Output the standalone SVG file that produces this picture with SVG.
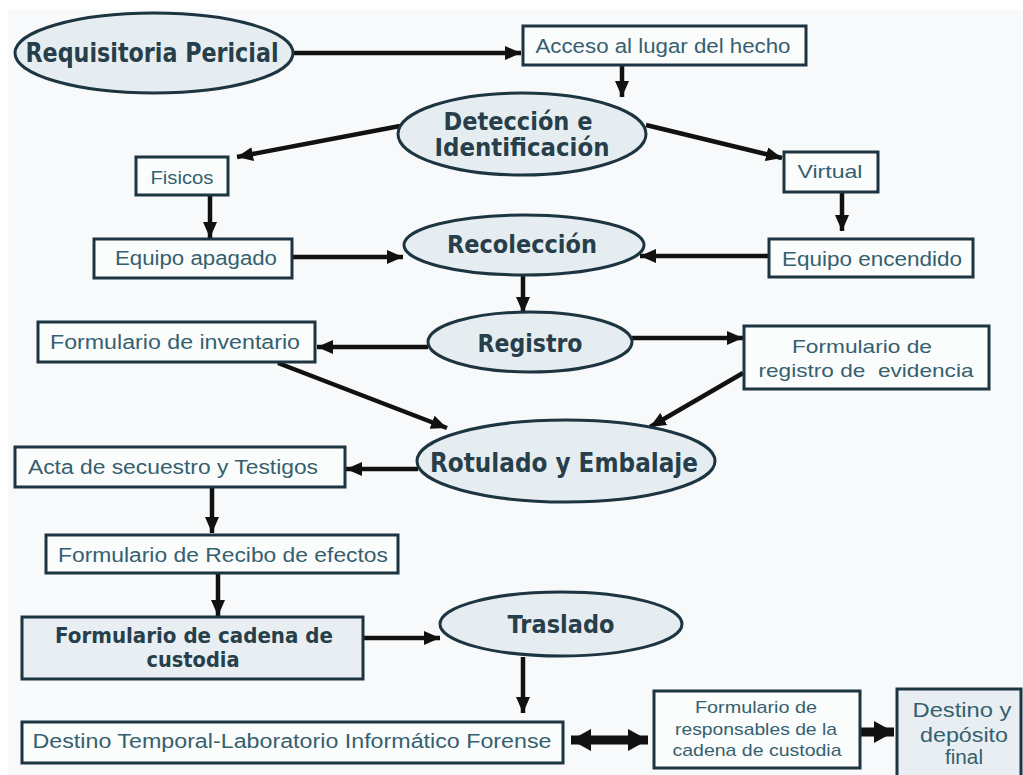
<svg xmlns="http://www.w3.org/2000/svg" width="1023" height="775" viewBox="0 0 1023 775">
<defs>
<style>
.bg{fill:#f8f9fa}
.ell{fill:#e6edf1;stroke:#1d3540;stroke-width:3}
.box{fill:#fbfcfc;stroke:#1d3540;stroke-width:3}
.boxf{fill:#e8eef2;stroke:#1d3540;stroke-width:3}
.tb{font-family:"DejaVu Sans","Liberation Sans",sans-serif;font-weight:bold;fill:#263f4b;text-anchor:middle}
.tr{font-family:"Liberation Sans",Arial,sans-serif;fill:#35606f;text-anchor:middle}
.c{stroke:#111;stroke-width:4.5;fill:none}
.ct{stroke:#111;stroke-width:9;fill:none}
</style>
<marker id="ah" viewBox="0 0 16 14" refX="16" refY="7" markerWidth="16" markerHeight="14" markerUnits="userSpaceOnUse" orient="auto">
<path d="M0,0 L16,7 L0,14 z" fill="#111"/>
</marker>
<marker id="ahb" viewBox="0 0 20 22" refX="20" refY="11" markerWidth="20" markerHeight="22" markerUnits="userSpaceOnUse" orient="auto-start-reverse">
<path d="M0,0 L20,11 L0,22 z" fill="#111"/>
</marker>
</defs>
<rect width="1023" height="775" fill="#ffffff"/>
<rect class="bg" x="8" y="10" width="1015" height="765"/>

<g id="connectors">
<line class="c" x1="293" y1="53" x2="521" y2="53" marker-end="url(#ah)"/>
<line class="c" x1="622" y1="65" x2="622" y2="97" marker-end="url(#ah)"/>
<line class="c" x1="400" y1="126" x2="237" y2="157" marker-end="url(#ah)"/>
<line class="c" x1="646" y1="125" x2="782" y2="158" marker-end="url(#ah)"/>
<line class="c" x1="210" y1="195" x2="210" y2="238" marker-end="url(#ah)"/>
<line class="c" x1="842" y1="192" x2="842" y2="231" marker-end="url(#ah)"/>
<line class="c" x1="292" y1="257" x2="403" y2="257" marker-end="url(#ah)"/>
<line class="c" x1="769" y1="256" x2="640" y2="256" marker-end="url(#ah)"/>
<line class="c" x1="523" y1="276" x2="523" y2="313" marker-end="url(#ah)"/>
<line class="c" x1="428" y1="347" x2="317" y2="347" marker-end="url(#ah)"/>
<line class="c" x1="632" y1="338" x2="743" y2="338" marker-end="url(#ah)"/>
<line class="c" x1="278" y1="363" x2="447" y2="428" marker-end="url(#ah)"/>
<line class="c" x1="743" y1="373" x2="650" y2="427" marker-end="url(#ah)"/>
<line class="c" x1="418" y1="469" x2="346" y2="469" marker-end="url(#ah)"/>
<line class="c" x1="212" y1="487" x2="212" y2="533" marker-end="url(#ah)"/>
<line class="c" x1="218" y1="573" x2="218" y2="616" marker-end="url(#ah)"/>
<line class="c" x1="363" y1="638" x2="440" y2="638" marker-end="url(#ah)"/>
<line class="c" x1="523" y1="657" x2="523" y2="713" marker-end="url(#ah)"/>
<line class="ct" x1="571" y1="740" x2="648" y2="740" marker-start="url(#ahb)" marker-end="url(#ahb)"/>
<line class="ct" x1="860" y1="732" x2="894" y2="732" marker-end="url(#ahb)"/>
</g>

<g id="n-requisitoria">
<ellipse class="ell" cx="154" cy="53" rx="139" ry="40"/>
<text class="tb" x="152" y="62" font-size="26" textLength="253" lengthAdjust="spacingAndGlyphs">Requisitoria Pericial</text>
</g>
<g id="n-acceso">
<rect class="box" x="523" y="26" width="283" height="39"/>
<text class="tr" x="663" y="53" font-size="20" textLength="255" lengthAdjust="spacingAndGlyphs">Acceso al lugar del hecho</text>
</g>
<g id="n-deteccion">
<ellipse class="ell" cx="522" cy="134" rx="124" ry="41"/>
<text class="tb" x="518" y="130" font-size="24" textLength="149" lengthAdjust="spacingAndGlyphs">Detección e</text>
<text class="tb" x="522" y="156" font-size="24" textLength="175" lengthAdjust="spacingAndGlyphs">Identificación</text>
</g>
<g id="n-fisicos">
<rect class="box" x="136" y="157" width="92" height="38"/>
<text class="tr" x="182" y="184" font-size="18" textLength="63" lengthAdjust="spacingAndGlyphs">Fisicos</text>
</g>
<g id="n-virtual">
<rect class="box" x="784" y="152" width="94" height="40"/>
<text class="tr" x="830" y="178" font-size="19" textLength="65" lengthAdjust="spacingAndGlyphs">Virtual</text>
</g>
<g id="n-apagado">
<rect class="box" x="94" y="239" width="198" height="39"/>
<text class="tr" x="196" y="265" font-size="20" textLength="162" lengthAdjust="spacingAndGlyphs">Equipo apagado</text>
</g>
<g id="n-recoleccion">
<ellipse class="ell" cx="524" cy="245" rx="120" ry="30"/>
<text class="tb" x="522" y="253" font-size="24" textLength="150" lengthAdjust="spacingAndGlyphs">Recolección</text>
</g>
<g id="n-encendido">
<rect class="box" x="769" y="239" width="204" height="38"/>
<text class="tr" x="872" y="266" font-size="20" textLength="180" lengthAdjust="spacingAndGlyphs">Equipo encendido</text>
</g>
<g id="n-registro">
<ellipse class="ell" cx="530" cy="342" rx="102" ry="30"/>
<text class="tb" x="530" y="352" font-size="25" textLength="105" lengthAdjust="spacingAndGlyphs">Registro</text>
</g>
<g id="n-inventario">
<rect class="box" x="38" y="322" width="277" height="40"/>
<text class="tr" x="175" y="349" font-size="20" textLength="250" lengthAdjust="spacingAndGlyphs">Formulario de inventario</text>
</g>
<g id="n-evidencia">
<rect class="box" x="744" y="326" width="245" height="63"/>
<text class="tr" x="862" y="353" font-size="19" textLength="140" lengthAdjust="spacingAndGlyphs">Formulario de</text>
<text class="tr" x="866" y="377" font-size="19" textLength="215" lengthAdjust="spacingAndGlyphs" xml:space="preserve">registro de  evidencia</text>
</g>
<g id="n-rotulado">
<ellipse class="ell" cx="566" cy="461" rx="149" ry="41"/>
<text class="tb" x="564" y="472" font-size="26" textLength="268" lengthAdjust="spacingAndGlyphs">Rotulado y Embalaje</text>
</g>
<g id="n-acta">
<rect class="box" x="15" y="447" width="330" height="40"/>
<text class="tr" x="173" y="474" font-size="20" textLength="290" lengthAdjust="spacingAndGlyphs">Acta de secuestro y Testigos</text>
</g>
<g id="n-recibo">
<rect class="box" x="46" y="535" width="352" height="38"/>
<text class="tr" x="223" y="562" font-size="20" textLength="330" lengthAdjust="spacingAndGlyphs">Formulario de Recibo de efectos</text>
</g>
<g id="n-cadena">
<rect class="boxf" x="22" y="617" width="341" height="62"/>
<text class="tb" x="194" y="643" font-size="21" textLength="278" lengthAdjust="spacingAndGlyphs">Formulario de cadena de</text>
<text class="tb" x="193" y="667" font-size="21" textLength="93" lengthAdjust="spacingAndGlyphs">custodia</text>
</g>
<g id="n-traslado">
<ellipse class="ell" cx="561" cy="624" rx="121" ry="32"/>
<text class="tb" x="561" y="633" font-size="25" textLength="107" lengthAdjust="spacingAndGlyphs">Traslado</text>
</g>
<g id="n-destino-temporal">
<rect class="box" x="22" y="722" width="541" height="41"/>
<text class="tr" x="292" y="748" font-size="20" textLength="519" lengthAdjust="spacingAndGlyphs">Destino Temporal-Laboratorio Informático Forense</text>
</g>
<g id="n-responsables">
<rect class="box" x="654" y="691" width="206" height="77"/>
<text class="tr" x="756" y="713" font-size="17" textLength="122" lengthAdjust="spacingAndGlyphs">Formulario de</text>
<text class="tr" x="756" y="735" font-size="17" textLength="162" lengthAdjust="spacingAndGlyphs">responsables de la</text>
<text class="tr" x="757" y="756" font-size="17" textLength="169" lengthAdjust="spacingAndGlyphs">cadena de custodia</text>
</g>
<g id="n-destino-final">
<rect class="boxf" x="897" y="689" width="124" height="90"/>
<text class="tr" x="962" y="717" font-size="20" textLength="99" lengthAdjust="spacingAndGlyphs">Destino y</text>
<text class="tr" x="964" y="742" font-size="20" textLength="88" lengthAdjust="spacingAndGlyphs">depósito</text>
<text class="tr" x="964" y="764" font-size="20" textLength="38" lengthAdjust="spacingAndGlyphs">final</text>
</g>
</svg>
